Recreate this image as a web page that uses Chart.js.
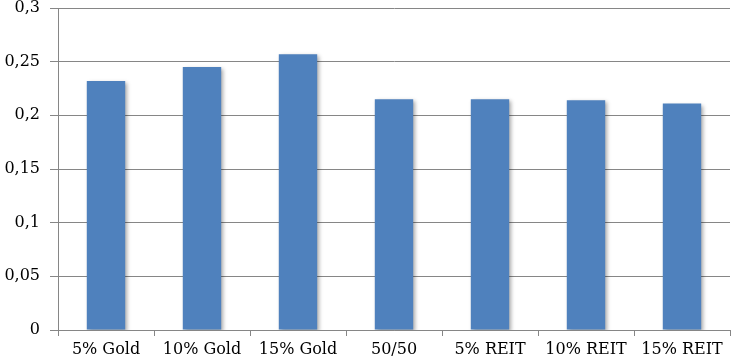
<!DOCTYPE html>
<html>
<head>
<meta charset="utf-8">
<script src="https://cdn.jsdelivr.net/npm/chart.js@4"></script>
<style>
  html, body { margin: 0; padding: 0; background: #fff; }
  #wrap { width: 731px; height: 364px; }
</style>
</head>
<body>
<div id="wrap"><canvas id="myChart"></canvas></div>
<script>
var categorias = ['5% Gold', '10% Gold', '15% Gold', '50/50', '5% REIT', '10% REIT', '15% REIT'];
var valores = [0.232, 0.245, 0.257, 0.215, 0.215, 0.214, 0.211];
var ticksY = [0, 0.05, 0.1, 0.15, 0.2, 0.25, 0.3];

// sombra suave debajo de las barras
var sombra = {
    id: 'sombra',
    beforeDatasetsDraw: function (chart) {
        var ctx = chart.ctx;
        ctx.save();
        ctx.shadowColor = 'rgba(0,0,0,0.35)';
        ctx.shadowBlur = 4;
        ctx.shadowOffsetX = 2;
        ctx.shadowOffsetY = 2;
    },
    afterDatasetsDraw: function (chart) {
        chart.ctx.restore();
    }
};

Chart.defaults.font.family = '"DejaVu Serif", serif';
Chart.defaults.font.size = 16;
Chart.defaults.color = '#000';

const ctx = document.getElementById('myChart');
new Chart(ctx, {
    type: 'bar',
    data: {
        labels: categorias,
        datasets: [{
            data: valores,
            backgroundColor: '#4F81BD',
            borderWidth: 0,
            categoryPercentage: 1,
            barPercentage: 0.4
        }]
    },
    plugins: [sombra],
    options: {
        responsive: true,
        maintainAspectRatio: false,
        animation: false,
        layout: { padding: { top: 8, right: 1, left: 0, bottom: 0 } },
        plugins: {
            legend: { display: false },
            tooltip: { enabled: false }
        },
        scales: {
            x: {
                grid: {
                    offset: true,
                    drawOnChartArea: false,
                    color: '#868686',
                    tickLength: 6
                },
                border: { color: '#868686' },
                ticks: { padding: 4, maxRotation: 0, autoSkip: false },
                afterFit: function (s) { s.height = 34; s.paddingLeft = 0; s.paddingRight = 0; }
            },
            y: {
                min: 0,
                max: 0.3,
                afterBuildTicks: function (s) {
                    s.ticks = ticksY.map(function (v) { return { value: v }; });
                },
                grid: { color: '#868686', tickLength: 8 },
                border: { color: '#868686' },
                ticks: {
                    padding: 10,
                    callback: function (v) { return String(Math.round(v * 100) / 100).replace('.', ','); }
                },
                afterFit: function (s) { s.width = 58; s.paddingTop = 0; s.paddingBottom = 0; }
            }
        }
    }
});
</script>
</body>
</html>
